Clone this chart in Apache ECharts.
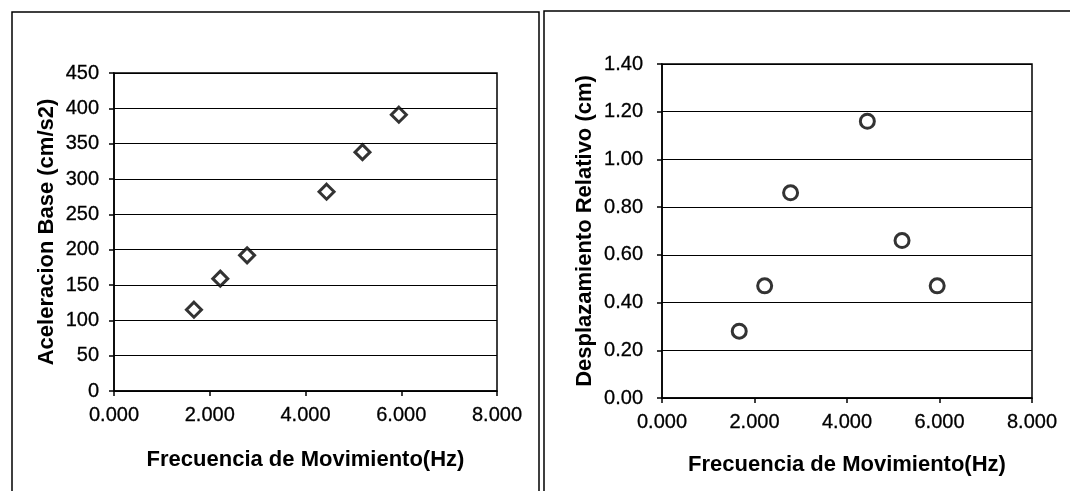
<!DOCTYPE html>
<html>
<head>
<meta charset="utf-8">
<script src="https://cdn.jsdelivr.net/npm/echarts@6/dist/echarts.min.js"></script>
<style>
html,body{margin:0;padding:0;background:#fff;}
#c{width:1070px;height:491px;}
</style>
</head>
<body>
<div id="c"></div>
<script>
const frecuencia = [1.67, 2.22, 2.78, 4.44, 5.19, 5.95];
const aceleracion = [115, 159, 192, 282, 338, 391];
const desplazamiento = [0.28, 0.47, 0.86, 1.16, 0.66, 0.47];
const xTitle = 'Frecuencia de Movimiento(Hz)';
const yTitleLeft = 'Aceleracion Base (cm/s2)';
const yTitleRight = 'Desplazamiento Relativo (cm)';

const FONT = '"Liberation Sans", Arial, sans-serif';
const chart = echarts.init(document.getElementById('c'));

function xAxisCfg(gridIndex, labelMargin, nameGap) {
  return {
    gridIndex: gridIndex, type: 'value', min: 0, max: 8, interval: 2,
    name: xTitle, nameLocation: 'middle', nameGap: nameGap,
    nameTextStyle: {fontFamily: FONT, fontSize: 22, fontWeight: 'bold', color: '#000'},
    axisLine: {show: true, onZero: false, lineStyle: {color: '#000', width: 1.5}},
    axisTick: {show: true, length: 5, lineStyle: {color: '#000', width: 1.5}},
    axisLabel: {fontFamily: FONT, fontSize: 20, color: '#000', margin: labelMargin,
      textBorderColor: '#000', textBorderWidth: 0.3,
      formatter: v => v.toFixed(3)},
    splitLine: {show: false}
  };
}
function yAxisCfg(gridIndex, max, interval, name, nameGap, labelMargin, digits) {
  return {
    gridIndex: gridIndex, type: 'value', min: 0, max: max, interval: interval,
    name: name, nameLocation: 'middle', nameGap: nameGap, nameRotate: 90,
    nameTextStyle: {fontFamily: FONT, fontSize: 22, fontWeight: 'bold', color: '#000'},
    axisLine: {show: true, onZero: false, lineStyle: {color: '#000', width: 1.5}},
    axisTick: {show: true, length: 5, lineStyle: {color: '#000', width: 1.5}},
    axisLabel: {fontFamily: FONT, fontSize: 20, color: '#000', margin: labelMargin,
      textBorderColor: '#000', textBorderWidth: 0.3,
      formatter: v => v.toFixed(digits)},
    splitLine: {show: true, lineStyle: {color: '#000', width: 1.2}}
  };
}

chart.setOption({
  animation: false,
  backgroundColor: '#fff',
  grid: [
    {left: 114, right: 573, top: 73, bottom: 100, show: true, borderColor: '#000', borderWidth: 1.5, backgroundColor: 'transparent'},
    {left: 662, right: 38, top: 64, bottom: 93, show: true, borderColor: '#000', borderWidth: 1.5, backgroundColor: 'transparent'}
  ],
  xAxis: [xAxisCfg(0, 14, 58), xAxisCfg(1, 14, 56)],
  yAxis: [
    yAxisCfg(0, 450, 50, yTitleLeft, 56, 15, 0),
    yAxisCfg(1, 1.4, 0.2, yTitleRight, 66, 19, 2)
  ],
  graphic: [
    {type: 'polyline', shape: {points: [[12, 495], [12, 12], [539, 12], [539, 495]]},
      style: {stroke: '#000', lineWidth: 1.5, fill: null}},
    {type: 'polyline', shape: {points: [[544, 495], [544, 11], [1072, 11]]},
      style: {stroke: '#000', lineWidth: 1.5, fill: null}}
  ],
  series: [
    {type: 'scatter', xAxisIndex: 0, yAxisIndex: 0,
      data: frecuencia.map((f, i) => [f, aceleracion[i]]),
      symbol: 'diamond', symbolSize: 15,
      itemStyle: {color: '#fff', borderColor: '#000', borderWidth: 3}},
    {type: 'scatter', xAxisIndex: 1, yAxisIndex: 1,
      data: frecuencia.map((f, i) => [f, desplazamiento[i]]),
      symbol: 'circle', symbolSize: 14,
      itemStyle: {color: '#fff', borderColor: '#000', borderWidth: 3}}
  ]
});
</script>
</body>
</html>
